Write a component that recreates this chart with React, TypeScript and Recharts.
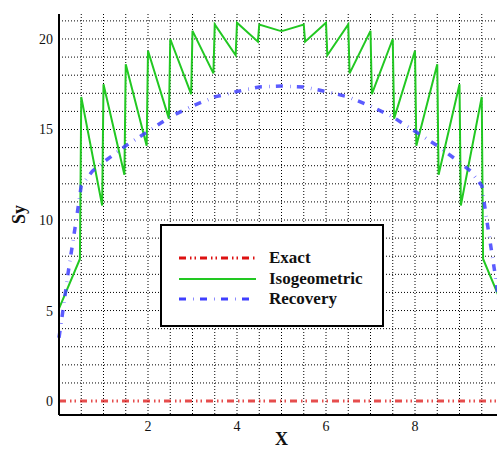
import { CartesianGrid, Legend, Line, LineChart, XAxis, YAxis } from "recharts"

// Sy along the line, three solutions
const exactX = [0, 10]
const exactY = [0, 0]

// isogeometric stresses jump at every element boundary
const isoX = [
	0, 0.47, 0.5, 0.97, 1.0, 1.47, 1.5, 1.97, 2.0, 2.47, 2.5, 2.97, 3.0, 3.47, 3.5, 3.97, 4.0, 4.47, 4.5, 4.97,
	5.03, 5.5, 5.53, 6.0, 6.03, 6.5, 6.53, 7.0, 7.03, 7.5, 7.53, 8.0, 8.03, 8.5, 8.53, 9.0, 9.03, 9.5, 9.53, 10,
]
const isoY = [
	5.1, 7.85, 16.8, 10.8, 17.5, 12.5, 18.6, 14.1, 19.35, 15.6, 20.0, 16.95, 20.45, 18.1, 20.8, 19.1, 20.9, 19.85, 20.8, 20.45,
	20.45, 20.8, 19.85, 20.9, 19.1, 20.8, 18.1, 20.45, 16.95, 20.0, 15.6, 19.35, 14.1, 18.6, 12.5, 17.5, 10.8, 16.8, 7.85, 5.1,
]

const recX = [
	0, 0.1, 0.2, 0.3, 0.4, 0.5, 0.75, 1, 1.5, 2, 2.5, 3, 3.5, 4, 4.5, 5,
	5.5, 6, 6.5, 7, 7.5, 8, 8.5, 9, 9.25, 9.5, 9.6, 9.7, 9.8, 9.9, 10,
]
const recY = [
	3.5, 5.2, 7.0, 8.6, 10.2, 11.9, 12.7, 13.2, 14.1, 14.9, 15.7, 16.3, 16.8, 17.1, 17.35, 17.4,
	17.35, 17.1, 16.8, 16.3, 15.7, 14.9, 14.1, 13.2, 12.7, 11.9, 10.2, 8.6, 7.0, 5.2, 3.5,
]

const xTicks = [2, 4, 6, 8]
const yTicks = [0, 5, 10, 15, 20]
const xGrid = [0.5, 1, 1.5, 2, 2.5, 3, 3.5, 4, 4.5, 5, 5.5, 6, 6.5, 7, 7.5, 8, 8.5, 9, 9.5]
const yGrid = [1, 2, 3, 4, 5, 6, 7, 8, 9, 10, 11, 12, 13, 14, 15, 16, 17, 18, 19, 20, 21]

const toPoints = (xs: number[], ys: number[]) => xs.map((x, i) => ({ x, y: ys[i] }))

const exactData = toPoints(exactX, exactY)
const isoData = toPoints(isoX, isoY)
const recData = toPoints(recX, recY)

const FONT = '"Liberation Serif", "Times New Roman", serif'

const series = [
	{ name: "Exact", color: "#dd1111", width: 3, dash: "7 4 1.5 3 1.5 4" },
	{ name: "Isogeometric", color: "#22c822", width: 2, dash: undefined },
	{ name: "Recovery", color: "#3f3fff", width: 3, dash: "7 7.2 0.6 6.2" },
]

const applyScale = (axis: any, v: number) => {
	const s = axis?.scale
	if (typeof s === "function") return s(v)
	if (s && typeof s.map === "function") return s.map(v)
	return 0
}

function LegendBox() {
	return (
		<div
			style={{
				boxSizing: "border-box",
				width: 224,
				height: 103,
				border: "2px solid #000",
				background: "#fff",
				paddingTop: 22,
				paddingLeft: 17,
				fontFamily: FONT,
				fontWeight: "bold",
				fontSize: 17,
				color: "#111",
			}}
		>
			{series.map((s) => (
				<div key={s.name} style={{ display: "flex", alignItems: "center", height: 20.5 }}>
					<svg width={77} height={6} style={{ marginRight: 13 }}>
						<line
							x1={0}
							y1={3}
							x2={77}
							y2={3}
							stroke={s.color}
							strokeWidth={s.width === 2 ? 2 : 3}
							strokeDasharray={s.dash}
						/>
					</svg>
					<span>{s.name}</span>
				</div>
			))}
		</div>
	)
}

export default function App() {
	return (
		<div
			style={{
				position: "absolute",
				left: 0,
				top: 0,
				width: 497,
				height: 450,
				overflow: "hidden",
				background: "#fff",
			}}
		>
			<LineChart width={512} height={450} margin={{ top: 14, right: 8, left: 0, bottom: 0 }}>
				<CartesianGrid
					stroke="#000"
					strokeDasharray="1 2"
					horizontalCoordinatesGenerator={({ yAxis }: any) => yGrid.map((v) => applyScale(yAxis, v))}
					verticalCoordinatesGenerator={({ xAxis }: any) => xGrid.map((v) => applyScale(xAxis, v))}
				/>
				<XAxis
					dataKey="x"
					type="number"
					domain={[0, 10]}
					ticks={xTicks}
					height={35}
					tickLine={false}
					tickSize={4}
					tickMargin={2}
					axisLine={{ stroke: "#000", strokeWidth: 2 }}
					tick={{ fill: "#111", fontSize: 14, fontFamily: FONT }}
					label={{
						value: "X",
						position: "insideBottom",
						offset: 5,
						style: { fill: "#111", fontSize: 18, fontWeight: "bold", fontFamily: FONT },
					}}
				/>
				<XAxis
					xAxisId="top"
					orientation="top"
					type="number"
					domain={[0, 10]}
					height={0}
					tick={false}
					tickLine={false}
					axisLine={{ stroke: "#000", strokeWidth: 2 }}
				/>
				<YAxis
					type="number"
					domain={[-0.77, 21.38]}
					ticks={yTicks}
					width={59}
					tickLine={false}
					tickSize={4}
					tickMargin={2}
					axisLine={{ stroke: "#000", strokeWidth: 2 }}
					tick={{ fill: "#111", fontSize: 14, fontFamily: FONT }}
					label={{
						value: "Sy",
						content: ({ viewBox }: any) => {
							const cx = viewBox.x + 19
							const cy = viewBox.y + viewBox.height / 2
							return (
								<text
									x={cx}
									y={cy}
									transform={`rotate(-90 ${cx} ${cy})`}
									textAnchor="middle"
									dominantBaseline="central"
									fill="#111"
									fontSize={18}
									fontWeight="bold"
									fontFamily={FONT}
								>
									Sy
								</text>
							)
						},
					}}
				/>
				<Legend
					layout="vertical"
					align="center"
					verticalAlign="middle"
					content={() => <LegendBox />}
					wrapperStyle={{ left: 160, top: 224, width: 224, height: 103 }}
				/>
				<Line
					data={exactData}
					dataKey="y"
					name="Exact"
					stroke={series[0].color}
					strokeWidth={3}
					strokeOpacity={0.75}
					strokeDasharray={series[0].dash}
					dot={false}
					activeDot={false}
					isAnimationActive={false}
				/>
				<Line
					data={isoData}
					dataKey="y"
					name="Isogeometric"
					type="linear"
					stroke={series[1].color}
					strokeWidth={2}
					dot={false}
					activeDot={false}
					isAnimationActive={false}
				/>
				<Line
					data={recData}
					dataKey="y"
					name="Recovery"
					type="linear"
					stroke={series[2].color}
					strokeWidth={3.5}
					strokeOpacity={0.85}
					strokeDasharray={series[2].dash}
					dot={false}
					activeDot={false}
					isAnimationActive={false}
				/>
			</LineChart>
		</div>
	)
}
